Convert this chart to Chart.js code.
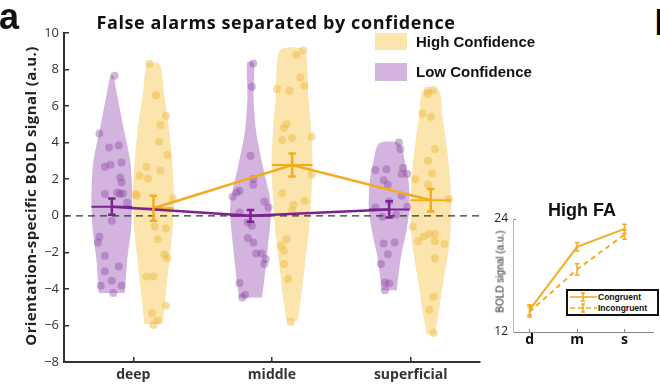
<!DOCTYPE html>
<html>
<head>
<meta charset="utf-8">
<script src="https://cdn.jsdelivr.net/npm/chart.js@4.4.1/dist/chart.umd.min.js"></script>
<style>
  html, body { margin: 0; padding: 0; background: #fff; }
  #page { position: relative; width: 660px; height: 388px; overflow: hidden; }
  canvas { position: absolute; }
  #mainChart { left: 0; top: 0; }
  #insetChart { left: 480px; top: 195px; }
  .lbl { position: absolute; white-space: nowrap; line-height: 1; color: #111; }
  #panelA { left: -1px; top: -4px; font: bold 36px 'Liberation Sans', sans-serif; }
  #panelB { left: 654.5px; top: 3px; font: bold 35px 'Liberation Sans', sans-serif; color: #000; }
  #title { left: 66px; width: 420px; text-align: center; top: 10px; letter-spacing: 0.6px;
           font: bold 18px 'Open Sans', sans-serif; }
  .legBox { position: absolute; left: 375px; width: 32px; height: 17px; }
  .legText { left: 416px; font: bold 15px 'Liberation Sans', sans-serif; }
  #yLabel { left: -130px; top: 186px; width: 320px; text-align: center; transform: rotate(-90deg);
            letter-spacing: 0.4px; font: bold 15px 'Open Sans', sans-serif; color: #222; }
  #insetTitle { left: 532px; width: 100px; text-align: center; top: 200px; font: bold 18px 'Liberation Sans', sans-serif; }
  #insetY { left: 450px; top: 266px; width: 100px; text-align: center; transform: rotate(-90deg);
            font: 10px 'Liberation Sans', sans-serif; color: #222; }
  #insetLegend { position: absolute; left: 566px; top: 289px; }
</style>
</head>
<body>
<div id="page">
  <canvas id="mainChart" width="500" height="388"></canvas>
  <canvas id="insetChart" width="180" height="160"></canvas>

  <div class="lbl" id="panelA">a</div>
  <div class="lbl" id="panelB">b</div>
  <div class="lbl" id="title">False alarms separated by confidence</div>
  <div class="legBox" style="top:33px; background: rgb(251,229,172);"></div>
  <div class="legBox" style="top:63px; height:18px; background: rgb(210,180,222);"></div>
  <div class="lbl legText" style="top:33px;">High Confidence</div>
  <div class="lbl legText" style="top:63px;">Low Confidence</div>
  <div class="lbl" id="yLabel">Orientation-specific BOLD signal (a.u.)</div>

  <div class="lbl" id="insetTitle">High FA</div>
  <div class="lbl" id="insetY">BOLD signal (a.u.)</div>
  <svg id="insetLegend" width="94" height="28">
    <rect x="1" y="1" width="91" height="25" fill="#fff" stroke="#111" stroke-width="2"/>
    <g stroke="#f2ac1e" stroke-width="1.6">
      <line x1="4" y1="8" x2="31" y2="8"/>
      <line x1="17" y1="4" x2="17" y2="12"/><line x1="15" y1="4" x2="19" y2="4"/><line x1="15" y1="12" x2="19" y2="12"/>
      <line x1="4" y1="19" x2="31" y2="19" stroke-dasharray="5 3"/>
      <line x1="17" y1="15" x2="17" y2="23"/><line x1="15" y1="15" x2="19" y2="15"/><line x1="15" y1="23" x2="19" y2="23"/>
    </g>
    <text x="32" y="11" font-family="Liberation Sans" font-weight="bold" font-size="8.5" fill="#111">Congruent</text>
    <text x="32" y="22" font-family="Liberation Sans" font-weight="bold" font-size="8.5" fill="#111">Incongruent</text>
  </svg>
</div>

<script>
// Main panel data
const layers = ['deep', 'middle', 'superficial'];
const yTickValues = [-8, -6, -4, -2, 0, 2, 4, 6, 8, 10];

const lowMean = [0.50, 0.00, 0.35];
const lowErr = [0.45, 0.32, 0.44];
const highMean = [0.41, 2.78, 0.85];
const highErr = [0.68, 0.63, 0.61];

// violin profiles: [value, relative width]
const lowDeepViolin = [[-4.23, 0.64], [-2.46, 0.75], [-0.64, 0.95], [1.19, 1.0], [3.01, 0.9], [4.83, 0.57], [6.66, 0.25], [7.66, 0.07]];
const highDeepViolin = [[-5.92, 0.45], [-4.28, 0.6], [-2.46, 0.78], [-0.64, 0.95], [1.19, 1.0], [3.01, 0.92], [4.83, 0.76], [6.66, 0.52], [8.30, 0.3]];
const lowMidViolin = [[-4.47, 0.56], [-3.56, 0.67], [-1.73, 0.85], [0.09, 1.0], [1.0, 0.95], [2.83, 0.58], [4.65, 0.27], [6.47, 0.15], [8.39, 0.16]];
const highMidViolin = [[-5.74, 0.28], [-4.47, 0.44], [-2.65, 0.63], [-0.82, 0.83], [1.0, 0.94], [2.83, 1.0], [4.65, 0.94], [6.47, 0.8], [9.06, 0.6]];
const lowSupViolin = [[-4.07, 0.38], [-3.19, 0.46], [-2.10, 0.6], [-0.82, 0.85], [0.46, 1.0], [1.91, 0.95], [2.83, 0.8], [3.96, 0.5]];
const highSupViolin = [[-6.47, 0.2], [-5.38, 0.38], [-3.56, 0.62], [-1.73, 0.89], [0.09, 1.0], [1.91, 0.95], [3.74, 0.79], [5.56, 0.56], [6.84, 0.4]];

// individual subjects (value + horizontal jitter)
const lowDeepY = [7.66, 4.50, 3.74, 3.85, 2.68, 2.79, 2.92, 2.10, 1.82, 1.19, 1.28, 1.19, 1.22, 0.73, -0.27, -1.15, -1.48, -2.19, -2.77, -3.04, -3.56, -3.83, -3.83, -4.23];
const lowDeepJit = [0.02, -0.09, -0.02, 0.05, -0.05, -0.01, 0.07, 0.06, 0.07, -0.05, 0.04, 0.06, 0.08, 0.11, 0, -0.09, -0.10, -0.05, 0.05, -0.05, 0, -0.08, 0.07, 0.01];
const highDeepY = [8.30, 6.60, 5.47, 4.96, 4.05, 3.34, 2.68, 2.46, 2.19, 2.04, 1.19, 1.09, 0.97, -0.58, -0.69, -1.28, -2.13, -2.31, -3.32, -3.32, -4.92, -5.32, -5.71, -5.98];
const highDeepJit = [-0.03, 0.02, 0.09, 0.05, 0.04, 0.10, -0.05, 0.05, -0.10, -0.04, -0.13, -0.12, 0.14, 0.01, 0.09, 0.03, 0.08, 0.10, -0.05, 0, 0.09, -0.01, 0.03, 0];
const lowMidY = [8.33, 7.06, 3.28, 2.01, 1.70, 1.37, 1.28, 1.04, 0.78, 0.45, 0.18, -0.37, -0.55, -1.22, -1.46, -2.06, -2.06, -2.37, -2.64, -3.68, -4.34, -4.47];
const lowMidJit = [0.02, 0.01, 0, 0.02, 0.02, -0.08, -0.10, -0.13, 0.10, 0.13, -0.08, -0.02, 0.01, -0.02, 0.02, 0.04, 0.08, 0.11, 0.10, -0.08, -0.04, -0.06];
const highMidY = [9.06, 8.79, 7.57, 7.11, 6.93, 6.84, 5.01, 4.80, 4.32, 4.14, 4.25, 2.24, 1.24, 0.82, 0.60, 0.27, -1.28, -1.64, -1.91, -2.64, -3.46, -5.80];
const highMidJit = [0.08, 0.03, 0.06, 0.09, -0.11, -0.02, -0.04, -0.06, 0.14, -0.07, 0, 0.14, -0.07, 0.09, 0.01, 0, -0.04, -0.08, -0.06, -0.06, -0.03, -0.01];
const lowSupY = [4.01, 3.65, 2.50, 2.55, 2.61, 2.28, 2.28, 1.95, 1.70, 1.09, 0.78, 0.45, 0.49, -0.05, 0.05, -1.51, -1.46, -2.10, -2.64, -3.65, -3.70, -4.07];
const lowSupJit = [0.07, 0.08, -0.10, -0.02, 0.10, 0.09, 0.13, -0.04, -0.01, 0.09, 0, -0.10, 0.13, -0.05, 0.05, -0.04, 0.04, -0.01, -0.06, -0.03, 0, -0.03];
const highSupY = [6.84, 6.88, 6.66, 5.60, 5.42, 3.65, 3.01, 2.32, 2.01, 1.70, 0.91, -0.60, -1.15, -1.00, -1.00, -1.40, -1.40, -1.55, -2.33, -4.43, -5.14, -6.42];
const highSupJit = [-0.02, 0.02, -0.02, -0.06, 0, 0.03, -0.02, 0.01, -0.11, -0.02, 0.13, -0.13, -0.05, -0.01, 0.03, -0.09, 0.03, 0.10, 0.03, 0.02, -0.01, 0.02];

// Inset data
const insetLayers = ['d', 'm', 's'];
const insetYTicks = [12, 24];
const congruent = [14.35, 21.05, 22.95];
const congruentErr = [0.55, 0.45, 0.5];
const incongruent = [14.15, 18.65, 22.35];
const incongruentErr = [0.55, 0.6, 0.5];

const LOW_OFFSET = -0.155;
const HIGH_OFFSET = 0.145;
const VIOLIN_HALF = 0.147;

const purpleFill = 'rgb(210,180,222)';
const yellowFill = 'rgb(251,229,172)';
const purpleDot = 'rgba(140,70,160,0.4)';
const yellowDot = 'rgba(242,186,70,0.5)';
const purpleLine = '#7b2390';
const orangeLine = '#f2ac1e';

function violinShape(profile, center) {
    const right = profile.map(([v, w]) => ({ x: center + w * VIOLIN_HALF, y: v }));
    const left = profile.slice().reverse().map(([v, w]) => ({ x: center - w * VIOLIN_HALF, y: v }));
    return right.concat(left);
}

function dots(ys, jit, center) {
    return ys.map((y, i) => ({ x: center + jit[i], y }));
}

function errorBars(xs, means, errs, cap) {
    const pts = [];
    xs.forEach((x, i) => {
        const lo = means[i] - errs[i], hi = means[i] + errs[i];
        pts.push({ x, y: lo }, { x, y: hi }, { x, y: null },
                 { x: x - cap, y: hi }, { x: x + cap, y: hi }, { x, y: null },
                 { x: x - cap, y: lo }, { x: x + cap, y: lo }, { x, y: null });
    });
    return pts;
}

function meanBars(xs, means) {
    const pts = [];
    xs.forEach((x, i) => {
        pts.push({ x: x - VIOLIN_HALF, y: means[i] }, { x: x + VIOLIN_HALF, y: means[i] }, { x, y: null });
    });
    return pts;
}

const lowX = layers.map((_, i) => i + 1 + LOW_OFFSET);
const highX = layers.map((_, i) => i + 1 + HIGH_OFFSET);

function violinDataset(profile, center, color) {
    return {
        data: violinShape(profile, center), showLine: true, fill: 'shape', backgroundColor: color,
        borderColor: 'transparent', borderWidth: 0, pointRadius: 0, tension: 0.25, clip: false, order: 10
    };
}

function dotDataset(ys, jit, center, color) {
    return { data: dots(ys, jit, center), pointRadius: 4, pointBackgroundColor: color, pointBorderWidth: 0, clip: false, order: 5 };
}

function lineDataset(data, color, width, order, extra) {
    return Object.assign({
        data, showLine: true, borderColor: color, borderWidth: width, pointRadius: 0,
        fill: false, spanGaps: false, clip: false, order
    }, extra || {});
}

const mainDatasets = [
    violinDataset(lowDeepViolin, lowX[0], purpleFill),
    violinDataset(highDeepViolin, highX[0], yellowFill),
    violinDataset(lowMidViolin, lowX[1], purpleFill),
    violinDataset(highMidViolin, highX[1], yellowFill),
    violinDataset(lowSupViolin, lowX[2], purpleFill),
    violinDataset(highSupViolin, highX[2], yellowFill),
    dotDataset(lowDeepY, lowDeepJit, lowX[0], purpleDot),
    dotDataset(highDeepY, highDeepJit, highX[0], yellowDot),
    dotDataset(lowMidY, lowMidJit, lowX[1], purpleDot),
    dotDataset(highMidY, highMidJit, highX[1], yellowDot),
    dotDataset(lowSupY, lowSupJit, lowX[2], purpleDot),
    dotDataset(highSupY, highSupJit, highX[2], yellowDot),
    lineDataset([{ x: 0.5, y: 0 }, { x: 3.5, y: 0 }], '#333', 1.2, 4, { borderDash: [7, 5] }),
    lineDataset(meanBars(lowX, lowMean), purpleLine, 2, 3),
    lineDataset(meanBars(highX, highMean), orangeLine, 2, 3),
    lineDataset(lowX.map((x, i) => ({ x, y: lowMean[i] })), purpleLine, 2.5, 2),
    lineDataset(highX.map((x, i) => ({ x, y: highMean[i] })), orangeLine, 2.5, 2),
    lineDataset(errorBars(lowX, lowMean, lowErr, 0.027), purpleLine, 2.5, 1),
    lineDataset(errorBars(highX, highMean, highErr, 0.027), orangeLine, 2.5, 1)
];

Chart.defaults.font.family = "'Open Sans', sans-serif";

new Chart(document.getElementById('mainChart'), {
    type: 'scatter',
    data: { datasets: mainDatasets },
    options: {
        responsive: false,
        animation: false,
        events: [],
        layout: { padding: { left: 0, right: 20, top: 33, bottom: 0 } },
        plugins: { legend: { display: false }, tooltip: { enabled: false } },
        scales: {
            x: {
                type: 'linear', min: 0.5, max: 3.5,
                afterBuildTicks: s => { s.ticks = layers.map((_, i) => ({ value: i + 1 })); },
                afterFit: s => { s.height = 26; },
                ticks: { callback: v => layers[v - 1], color: '#333', padding: 10, maxRotation: 0, autoSkip: false,
                         font: { size: 14, weight: 'bold' } },
                grid: { drawOnChartArea: false, tickLength: -5, color: '#333', lineWidth: 1.5 },
                border: { color: '#333', width: 2 }
            },
            y: {
                min: -8, max: 10,
                afterBuildTicks: s => { s.ticks = yTickValues.map(v => ({ value: v })); },
                afterFit: s => { s.width = 64; },
                ticks: { callback: v => v < 0 ? '\u2212' + Math.abs(v) : String(v), color: '#333', padding: 10,
                         font: { size: 13 } },
                grid: { drawOnChartArea: false, tickLength: -5, color: '#333', lineWidth: 1.5 },
                border: { color: '#333', width: 2 }
            }
        }
    }
});

// Inset: High FA
const insetX = insetLayers.map((_, i) => i + 1);
new Chart(document.getElementById('insetChart'), {
    type: 'scatter',
    data: {
        datasets: [
            lineDataset(insetX.map((x, i) => ({ x, y: congruent[i] })), orangeLine, 2, 2),
            lineDataset(insetX.map((x, i) => ({ x, y: incongruent[i] })), orangeLine, 2, 2, { borderDash: [5, 4] }),
            lineDataset(errorBars(insetX, congruent, congruentErr, 0.05), orangeLine, 1.5, 1),
            lineDataset(errorBars(insetX, incongruent, incongruentErr, 0.05), orangeLine, 1.5, 1)
        ]
    },
    options: {
        responsive: false,
        animation: false,
        events: [],
        layout: { padding: { left: 0, right: 7, top: 24, bottom: 0 } },
        plugins: { legend: { display: false }, tooltip: { enabled: false } },
        scales: {
            x: {
                type: 'linear', min: 0.65, max: 3.6,
                afterBuildTicks: s => { s.ticks = insetX.map(v => ({ value: v })); },
                afterFit: s => { s.height = 23; },
                ticks: { callback: v => insetLayers[v - 1], color: '#111', padding: 3, maxRotation: 0, autoSkip: false,
                         font: { size: 14, weight: 'bold' } },
                grid: { drawOnChartArea: false, tickLength: -3, color: '#888', lineWidth: 1 },
                border: { color: '#888', width: 1 }
            },
            y: {
                min: 12, max: 24,
                afterBuildTicks: s => { s.ticks = insetYTicks.map(v => ({ value: v })); },
                afterFit: s => { s.width = 33; },
                ticks: { color: '#222', padding: 8, font: { size: 12 } },
                grid: { drawOnChartArea: false, tickLength: -3, color: '#888', lineWidth: 1 },
                border: { color: '#bbb', width: 1 }
            }
        }
    }
});
</script>
</body>
</html>
